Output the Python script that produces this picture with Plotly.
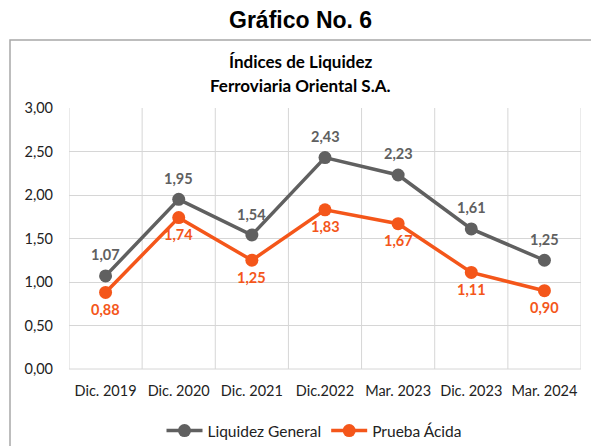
import plotly.graph_objects as go

categories = ["Dic. 2019", "Dic. 2020", "Dic. 2021", "Dic.2022", "Mar. 2023", "Dic. 2023", "Mar. 2024"]
liquidez_general = [1.07, 1.95, 1.54, 2.43, 2.23, 1.61, 1.25]
prueba_acida = [0.88, 1.74, 1.25, 1.83, 1.67, 1.11, 0.90]
y_ticks = [0, 0.5, 1, 1.5, 2, 2.5, 3]
y_tick_labels = ["0,00", "0,50", "1,00", "1,50", "2,00", "2,50", "3,00"]

GRAY = "#606060"
ORANGE = "#F4561A"
FONT = "Lato, Open Sans, sans-serif"

def fmt(v):
    return f"{v:.2f}".replace(".", ",")

fig = go.Figure()
fig.add_trace(go.Scatter(
    x=categories, y=liquidez_general, name="Liquidez General",
    mode="lines+markers",
    line=dict(color=GRAY, width=3.5), marker=dict(color=GRAY, size=13),
))
fig.add_trace(go.Scatter(
    x=categories, y=prueba_acida, name="Prueba Ácida",
    mode="lines+markers",
    line=dict(color=ORANGE, width=3.5), marker=dict(color=ORANGE, size=13),
))

for c, v in zip(categories, liquidez_general):
    fig.add_annotation(x=c, y=v, text=f"<b>{fmt(v)}</b>", showarrow=False, yshift=21,
                       font=dict(color=GRAY, size=14.5, family=FONT))
for c, v in zip(categories, prueba_acida):
    fig.add_annotation(x=c, y=v, text=f"<b>{fmt(v)}</b>", showarrow=False, yshift=-17,
                       font=dict(color=ORANGE, size=14.5, family=FONT))

# page body adds an 8px offset; target screen coordinates are given below
OFF = 8
W, H = 599, 446
PL, PR, PT, PB = 69, 581, 108, 369  # plot area on screen
L, T = PL - OFF, PT - OFF
R = W - (PR - OFF)
B = H - (PB - OFF)
pw, ph = PR - PL, PB - PT

def px(x):
    return (x - PL) / pw

def py(y):
    return (PB - y) / ph

fig.update_layout(
    width=W, height=H,
    margin=dict(l=L, r=R, t=T, b=B, autoexpand=False),
    paper_bgcolor="white", plot_bgcolor="white",
    font=dict(family=FONT, size=14.5, color="#222222"),
    showlegend=True,
    legend=dict(orientation="h", x=px(314), xanchor="center", y=py(431), yanchor="middle",
                font=dict(size=15.5, color="#222222"), itemwidth=36, tracegroupgap=0),
    xaxis=dict(type="category", range=[-0.5, 6.5], showgrid=False, ticks="",
               showline=False, tickfont=dict(size=14.5), ticklabelstandoff=11, automargin=False),
    yaxis=dict(range=[0, 3], tickvals=y_ticks, ticktext=y_tick_labels,
               showgrid=True, gridcolor="#D6D6D6", gridwidth=1, zeroline=False,
               tickfont=dict(size=14.5), ticklabelstandoff=15, automargin=False),
)

# vertical category boundaries
for i in range(8):
    fig.add_shape(type="line", xref="x", yref="paper", x0=i - 0.5, x1=i - 0.5, y0=0, y1=1,
                  line=dict(color="#D6D6D6", width=1), layer="below")
fig.add_shape(type="line", xref="paper", yref="paper", x0=0, x1=1, y0=0, y1=0,
              line=dict(color="#D6D6D6", width=1), layer="below")

# outer chart box
fig.add_shape(type="rect", xref="paper", yref="paper", x0=px(10), x1=px(640), y0=py(40), y1=py(480),
              line=dict(color="#A8A8A8", width=1.5))

fig.add_annotation(text="<b>Gráfico No. 6</b>", xref="paper", yref="paper", x=px(300), y=py(20),
                   showarrow=False, font=dict(family="Liberation Sans, Arial", size=23, color="black"),
                   xanchor="center", yanchor="middle")
fig.add_annotation(text="<b>Índices de Liquidez</b>", xref="paper", yref="paper", x=px(300), y=py(61),
                   showarrow=False, font=dict(size=17, color="black"), xanchor="center", yanchor="middle")
fig.add_annotation(text="<b>Ferroviaria Oriental S.A.</b>", xref="paper", yref="paper", x=px(300), y=py(86),
                   showarrow=False, font=dict(size=17, color="black"), xanchor="center", yanchor="middle")

fig.write_html("out.html")
